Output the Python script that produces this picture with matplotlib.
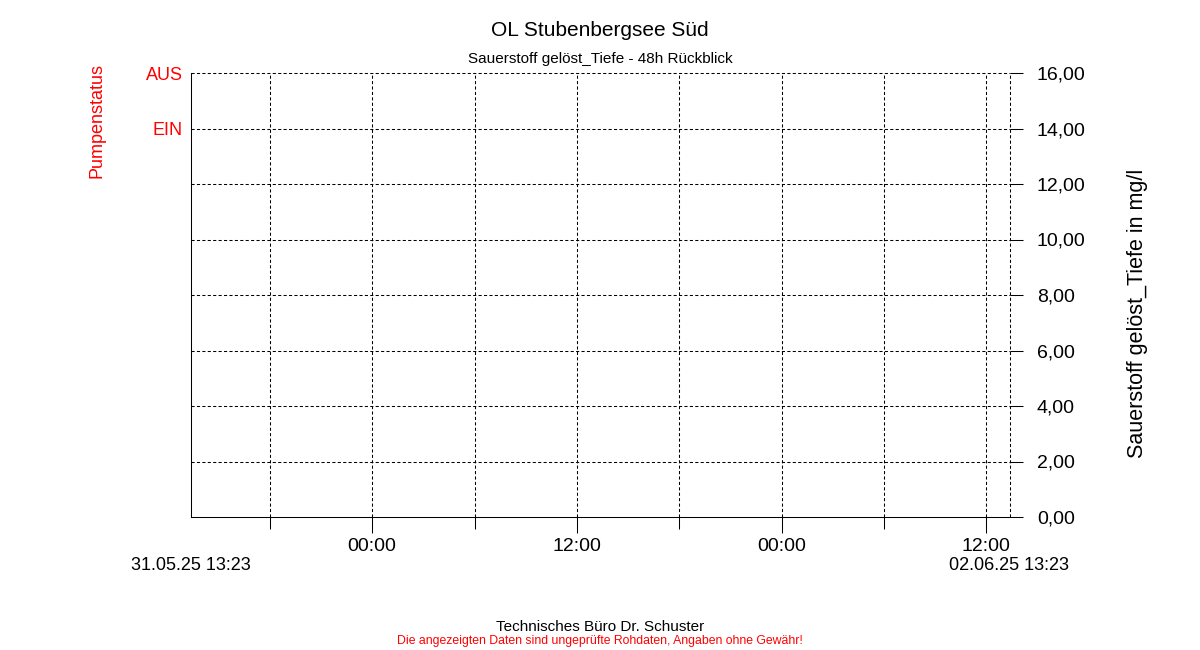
from datetime import datetime
import matplotlib
matplotlib.use('Agg')
import matplotlib.pyplot as plt
import matplotlib.dates as mdates

plt.rcParams['font.family'] = ['Liberation Sans', 'DejaVu Sans']

title     = "OL Stubenbergsee Süd"
subtitle  = "Sauerstoff gelöst_Tiefe - 48h Rückblick"
y_label   = "Sauerstoff gelöst_Tiefe in mg/l"
pump_lab  = "Pumpenstatus"
footer1   = "Technisches Büro Dr. Schuster"
footer2   = "Die angezeigten Daten sind ungeprüfte Rohdaten, Angaben ohne Gewähr!"

t_start   = datetime(2025, 5, 31, 13, 23)
t_end     = datetime(2025, 6, 2, 13, 23)
y_ticks   = [0, 2, 4, 6, 8, 10, 12, 14, 16]
pump_pos  = [14, 16]
pump_text = ["EIN", "AUS"]

RED = '#ff0000'
DASH = (0, (3.0, 2.2))
LW = 0.75

fig = plt.figure(figsize=(12, 6.5), dpi=100)
ax = fig.add_axes([191/1200, 133/650, 819/1200, 444/650])
ax2 = ax.twinx()   # pump status axis, labels on the left
ax.set_xlim(t_start, t_end)
ax.set_ylim(0, 16)
ax2.set_ylim(0, 16)

for s in ['top', 'right']:
    ax.spines[s].set_visible(False)
for s in ['left', 'bottom']:
    ax.spines[s].set_linewidth(LW)
for s in ax2.spines.values():
    s.set_visible(False)

# right value axis
ax.yaxis.tick_right()
ax.set_yticks(y_ticks)
ax.set_yticklabels([f"{v:.2f}".replace('.', ',') for v in y_ticks])
ax.tick_params(axis='y', length=9.4, width=LW, pad=10, labelsize=14)
fig.text(1138/1200, 1 - 313/650, y_label, rotation=90, fontsize=15.5,
         ha='center', va='center')

# pump status labels
ax2.yaxis.tick_left()
ax2.set_yticks(pump_pos)
ax2.set_yticklabels(pump_text)
ax2.tick_params(axis='y', length=0, pad=6, labelsize=13, labelcolor=RED)

# time axis
ax.xaxis.set_major_locator(mdates.HourLocator(byhour=[0, 12]))
ax.xaxis.set_minor_locator(mdates.HourLocator(byhour=[6, 18]))
ax.xaxis.set_major_formatter(mdates.DateFormatter('%H:%M'))
ax.tick_params(axis='x', which='major', length=11.5, width=LW, pad=3.5, labelsize=14)
ax.tick_params(axis='x', which='minor', length=8.4, width=LW)

# dashed grid
for v in y_ticks[1:]:
    ax.axhline(v, color='black', lw=LW, ls=DASH, clip_on=False)
ticks_x = list(ax.xaxis.get_majorticklocs()) + list(ax.xaxis.get_minorticklocs())
for x in ticks_x:
    ax.axvline(x, color='black', lw=LW, ls=DASH)
ax.axvline(mdates.date2num(t_end), color='black', lw=LW, ls=DASH, clip_on=False)

fig.text(97/1200, 1 - 120/650, pump_lab, rotation=90, color=RED, fontsize=13,
         ha='center', va='center')

# range labels
fig.text(191/1200, 1 - 565/650, t_start.strftime('%d.%m.%y %H:%M'), fontsize=13,
         ha='center', va='center')
fig.text(1009/1200, 1 - 565/650, t_end.strftime('%d.%m.%y %H:%M'), fontsize=13,
         ha='center', va='center')

fig.text(0.5, 1 - 31/650, title, fontsize=15, ha='center', va='center')
fig.text(0.5, 1 - 59/650, subtitle, fontsize=11, ha='center', va='center')
fig.text(0.5, 1 - 627/650, footer1, fontsize=11, ha='center', va='center')
fig.text(0.5, 1 - 641/650, footer2, fontsize=8.8, color=RED, ha='center', va='center')

fig.savefig('out.png', dpi=100, facecolor='white')
